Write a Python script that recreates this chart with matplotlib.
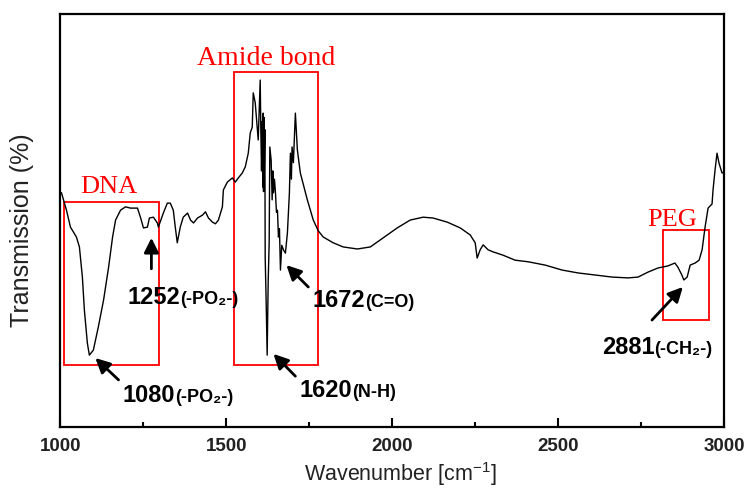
import matplotlib
matplotlib.use("Agg")
import matplotlib.pyplot as plt
from matplotlib.ticker import MultipleLocator

# ---------------- data ----------------
wavenumber = [1003, 1018, 1030, 1048, 1057, 1066, 1072, 1081, 1087, 1099, 1114, 1130, 1145, 1157,
              1166, 1181, 1196, 1211, 1232, 1241, 1250, 1262, 1268, 1280, 1292, 1295, 1310, 1322,
              1331, 1340, 1346, 1352, 1361, 1370, 1383, 1392, 1401, 1413, 1428, 1437, 1446, 1458,
              1467, 1476, 1488, 1491, 1503, 1518, 1527, 1536, 1548, 1557, 1566, 1572, 1578, 1581,
              1587, 1593, 1596, 1602, 1604, 1606, 1608, 1610, 1611, 1612, 1613, 1614, 1616, 1617,
              1620, 1623, 1626, 1629, 1631, 1635, 1638, 1640, 1642, 1645, 1648, 1651, 1654, 1657,
              1660, 1663, 1667, 1672, 1678, 1684, 1690, 1693, 1696, 1698, 1702, 1705,
              1708, 1714, 1723, 1744, 1762, 1777, 1792, 1822, 1852, 1895, 1934, 1973, 2015, 2054,
              2093, 2123, 2166, 2205, 2235, 2250, 2256, 2265, 2274, 2289, 2304, 2334, 2370, 2410,
              2461, 2512, 2560, 2611, 2663, 2711, 2741, 2771, 2801, 2831, 2852, 2861, 2873, 2879,
              2889, 2898, 2913, 2925, 2934, 2943, 2952, 2964, 2967, 2973, 2979, 2985, 2994, 3000]
transmission = [56.7, 52.5, 48.4, 46.0, 43.6, 36.3, 28.3, 20.3, 17.4, 18.6, 24.2, 30.8, 38.7, 46.0,
                50.1, 52.5, 53.3, 53.0, 53.0, 50.8, 48.2, 48.4, 50.6, 50.8, 49.4, 48.4, 51.8, 54.2,
                54.2, 52.5, 48.4, 44.6, 48.4, 50.8, 51.8, 50.1, 49.4, 50.6, 51.3, 52.1, 50.6, 49.6,
                49.2, 50.1, 53.3, 57.4, 59.3, 60.3, 59.3, 60.3, 61.5, 63.0, 66.3, 71.2, 72.6, 80.9,
                78.5, 72.6, 69.5, 84.0, 71.2, 62.0, 74.0, 58.1, 76.0, 57.0, 75.0, 60.0, 72.0, 41.2,
                30.0, 17.4, 35.0, 44.6, 67.8, 64.6, 55.0, 62.0, 56.7, 60.0, 56.7, 52.0, 52.5, 46.0,
                48.0, 38.0, 44.0, 42.9, 42.1, 47.0, 56.7, 66.3, 60.0, 67.8, 64.0, 70.0,
                76.0, 67.1, 61.5, 55.0, 50.1, 47.5, 46.0, 44.6, 43.6, 43.1, 43.6, 45.8, 48.2, 50.1,
                50.8, 50.6, 49.6, 48.2, 46.5, 44.6, 40.9, 42.9, 44.1, 42.9, 42.4, 41.6, 40.4, 40.0,
                39.2, 38.0, 37.3, 36.8, 36.3, 36.1, 36.3, 37.5, 38.5, 39.0, 39.7, 38.7, 36.8, 35.6,
                36.3, 39.2, 39.7, 40.4, 42.9, 48.4, 53.0, 54.0, 57.4, 62.2, 66.3, 63.9, 61.5, 61.7]

xticks = [1000, 1500, 2000, 2500, 3000]

region_names = ["DNA", "Amide bond", "PEG"]
region_x = [(1012, 1298), (1524, 1777), (2817, 2954)]
region_y = [(15.0, 54.5), (15.0, 86.0), (25.9, 47.7)]

peak_numbers = ["1252", "1080", "1672", "1620", "2881"]
peak_groups = ["(-PO\u2082-)", "(-PO\u2082-)", "(C=O)", "(N-H)", "(-CH\u2082-)"]

# ---------------- figure ----------------
fig = plt.figure(figsize=(7.45, 4.93), dpi=100)
ax = fig.add_axes([0.0812, 0.1339, 0.8906, 0.8377])

ax.plot(wavenumber, transmission, color="black", lw=1.0)

ax.set_xlim(1000, 3000)
ax.set_ylim(0, 100)
ax.set_xticks(xticks)
ax.set_xticklabels([str(t) for t in xticks])
ax.xaxis.set_minor_locator(MultipleLocator(250))
ax.set_yticks([])
ax.tick_params(axis="x", which="major", direction="in", length=6.5, width=1.5, pad=8)
ax.tick_params(axis="x", which="minor", direction="in", length=3.5, width=1.5)
for lab in ax.get_xticklabels():
    lab.set_fontfamily("Liberation Sans")
    lab.set_fontsize(13.5)
    lab.set_fontweight("bold")
    lab.set_color("#222222")
for sp in ax.spines.values():
    sp.set_linewidth(1.6)

# red boxes and labels
label_pos = [(1060, 58.1, "left", 19), (1620, 89.3, "center", 20), (2843, 50.1, "center", 19)]
for name, (x0, x1), (y0, y1), (lx, ly, ha, fs) in zip(region_names, region_x, region_y, label_pos):
    ax.add_patch(plt.Rectangle((x0, y0), x1 - x0, y1 - y0, fill=False,
                               edgecolor="red", lw=1.3))
    ax.text(lx, ly, name, color="red", fontsize=fs, family="Liberation Serif",
            ha=ha, va="center")

# arrows (head, tail)
arrows = [((1274, 45.8), (1274, 38.3)),
          ((1105, 16.7), (1175, 11.4)),
          ((1681, 39.2), (1747, 33.9)),
          ((1642, 17.7), (1708, 12.3)),
          ((2876, 33.9), (2783, 25.9))]
for head, tail in arrows:
    ax.annotate("", xy=head, xytext=tail,
                arrowprops=dict(arrowstyle="-|>", lw=2, color="black",
                                mutation_scale=22, shrinkA=0, shrinkB=0))

text_pos = [(1202, 29.8), (1187, 6.1), (1759, 29.1), (1720, 7.3), (2632, 17.7)]
for num, grp, (tx, ty) in zip(peak_numbers, peak_groups, text_pos):
    t1 = ax.text(tx, ty, num, fontsize=17, fontweight="bold",
                 family=["Liberation Sans", "DejaVu Sans"], ha="left", va="baseline")
    ax.annotate(grp, xy=(1, ty), xycoords=(t1, "data"), fontsize=13,
                fontweight="bold", family=["Liberation Sans", "DejaVu Sans"],
                ha="left", va="baseline")

fig.text(0.0295, 0.533, "Transmission (%)", rotation=90, ha="center", va="center",
         fontsize=18, family="Liberation Sans", color="#222222")
fig.text(0.538, 0.038, "Wavenumber [cm$^{\\mathregular{-1}}$]", ha="center", va="center",
         fontsize=15.5, family="Liberation Sans", color="#222222")

fig.savefig("out.png", dpi=100)
